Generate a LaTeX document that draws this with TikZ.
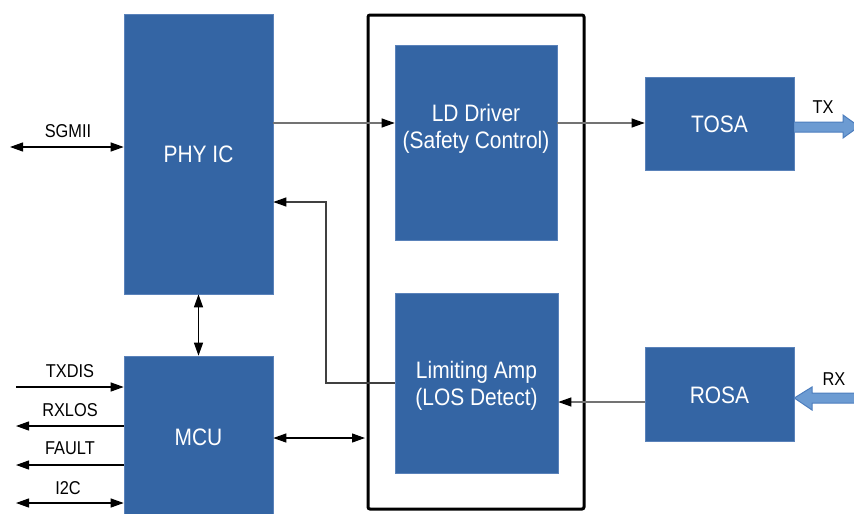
\documentclass[tikz,border=0pt]{standalone}
\usepackage{fontspec}
\setmainfont[FakeStretch=0.88]{Liberation Sans}
\usetikzlibrary{arrows.meta}
\definecolor{boxblue}{HTML}{3465A4}
\definecolor{boxedge}{HTML}{5A82BA}
\definecolor{bigfill}{HTML}{6C9BD2}
\definecolor{bigedge}{HTML}{4D7EBE}
\begin{document}
\begin{tikzpicture}[x=1pt,y=-1pt,
  blkbox/.style={draw=boxedge, fill=boxblue, line width=0.6pt, inner sep=0pt},
  blktext/.style={text=white, align=center, font=\fontsize{23.8}{27}\selectfont},
  lbl/.style={font=\fontsize{18.6}{20}\selectfont, text=black, inner sep=0pt},
  tipa/.style={-{Triangle[length=13pt,width=9pt,color=black]}},
  tipb/.style={{Triangle[length=13pt,width=9pt,color=black]}-{Triangle[length=13pt,width=9pt,color=black]}},
  bline/.style={line width=1.2pt, draw=black},
  gline/.style={line width=1.1pt, draw=black!55},
  bigarrow/.style={fill=bigfill, draw=bigedge, line width=1pt, line join=miter}
]
\useasboundingbox (0,0) rectangle (854,514);

% blocks
\node[blkbox, minimum width=149pt, minimum height=280pt] (phy) at (198.5,154) {};
\node[blktext] (phyt) at (198.5,154) {PHY IC};
\node[blkbox, minimum width=149pt, minimum height=164pt] (mcu) at (198.5,438) {};
\node[blktext] (mcut) at (198.5,437) {MCU};

\node[draw=black, line width=3pt, rounded corners=2pt, minimum width=216pt, minimum height=494pt, inner sep=0pt] (outer) at (476,262) {};

\node[blkbox, minimum width=162pt, minimum height=195pt] (ld) at (476,142.5) {};
\node[blktext] (ldt) at (476,128.5) {LD Driver\\(Safety Control)};
\node[blkbox, minimum width=163pt, minimum height=180pt] (la) at (476.5,383) {};
\node[blktext] (lat) at (476.5,386) {Limiting Amp\\(LOS Detect)};

\node[blkbox, minimum width=149pt, minimum height=93pt] (tosa) at (719.5,123.5) {};
\node[blktext] (tosat) at (719.5,124) {TOSA};
\node[blkbox, minimum width=149pt, minimum height=94pt] (rosa) at (719.5,394) {};
\node[blktext] (rosat) at (719.5,395) {ROSA};

% big arrows
\draw[bigarrow] (tosa.east |- 0,122) -- (843,122) -- (843,115) -- (859,126.5) -- (843,138) -- (843,132) -- (tosa.east |- 0,132);
\draw[bigarrow] (rosa.east |- 0,398) -- (812,387) -- (812,393) -- (860,393) -- (860,403) -- (812,403) -- (812,410) -- cycle;
\node[lbl] (txl) at (823,107) {TX};
\node[lbl] (rxl) at (834,379) {RX};

% left signals
\coordinate (sgl) at (10,147);
\draw[bline, tipb] (sgl) -- (sgl -| phy.west);
\node[lbl] (sgmii) at (68,131) {SGMII};

\coordinate (txd) at (16,387);
\coordinate (rxl) at (16,426);
\coordinate (flt) at (16,465);
\coordinate (i2c) at (16,503);
\draw[bline, tipa] (txd) -- (txd -| mcu.west);
\draw[bline, tipa] (rxl -| mcu.west) -- (rxl);
\draw[bline, tipa] (flt -| mcu.west) -- (flt);
\draw[bline, tipb] (i2c) -- (i2c -| mcu.west);
\node[lbl] (txdl) at (70,371) {TXDIS};
\node[lbl] (rxll) at (70,410) {RXLOS};
\node[lbl] (fltl) at (70,448) {FAULT};
\node[lbl] (i2cl) at (68,488) {I2C};

% internal connections
\coordinate (y123) at (0,123);
\draw[gline, tipa] (phy.east |- y123) -- (ld.west |- y123);
\draw[gline, tipa] (ld.east |- y123) -- (tosa.west |- y123);
\coordinate (y402) at (0,402);
\draw[gline, tipa] (rosa.west |- y402) -- (la.east |- y402);
\coordinate (fb) at (326,202);
\draw[gline, draw=black!75, tipa] (la.west) -- (la.west -| fb) -- (fb) -- (fb -| phy.east);
\draw[bline, tipb] (phy.south) -- (mcu.north);
\coordinate (y438) at (0,438);
\draw[bline, tipb] (mcu.east |- y438) -- ([xshift=-1.5pt]outer.west |- y438);
\end{tikzpicture}
\end{document}
